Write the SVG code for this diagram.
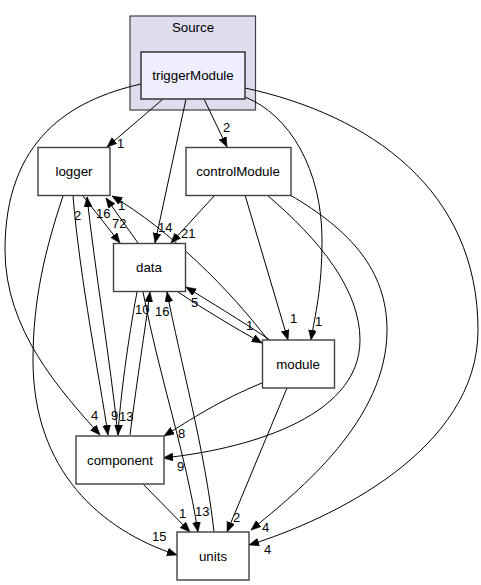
<svg xmlns="http://www.w3.org/2000/svg" width="481" height="585" viewBox="0 0 481 585">
<style>
.n{fill:#ffffff;stroke:#404040;stroke-width:1.4}
.t{font-family:"Liberation Sans",Arial,sans-serif;font-size:13.33px;fill:#000;text-anchor:middle}
.l{font-family:"Liberation Sans",Arial,sans-serif;font-size:13px;fill:#000}
.e{fill:none;stroke:#000;stroke-width:1;marker-end:url(#ah)}
</style>
<defs>
<marker id="ah" markerUnits="userSpaceOnUse" markerWidth="12" markerHeight="9" refX="10" refY="4" orient="auto">
<path d="M0,0 L10,4 L0,8 z" fill="#000" stroke="#000" stroke-width="0.5"/>
</marker>
</defs>
<rect width="481" height="585" fill="#fff"/>
<g id="cluster_Source">
<rect x="130" y="16" width="125.5" height="94" fill="#ddddee" stroke="#404040" stroke-width="1.2"/>
<text class="t" x="193" y="32">Source</text>
</g>
<g id="edges">
<path class="e" d="M163,99 L107,147"/>
<text class="l" x="117" y="148">1</text>
<path class="e" d="M186,99 L155,243"/>
<text class="l" x="158" y="232">14</text>
<path class="e" d="M204,99 L227,147"/>
<text class="l" x="223" y="132">2</text>
<path class="e" d="M141,84 C70,100 5,140 5,250 C5,330 60,390 100,435"/>
<text class="l" x="91" y="420">4</text>
<path class="e" d="M245,97 C290,115 322,170 322,240 C322,290 315,315 311,340"/>
<text class="l" x="315" y="326">1</text>
<path class="e" d="M245,88 C370,115 478,190 478,330 C478,450 330,520 249,545"/>
<text class="l" x="264" y="554">4</text>
<path class="e" d="M215,195 L171,243"/>
<text class="l" x="181" y="238">21</text>
<path class="e" d="M245,195 L288,340"/>
<text class="l" x="290" y="323">1</text>
<path class="e" d="M267,195 C320,240 360,290 360,340 C360,420 240,450 163,458"/>
<text class="l" x="177" y="471">9</text>
<path class="e" d="M290,195 C350,230 387,270 387,330 C387,420 300,490 251,530"/>
<text class="l" x="262" y="532">4</text>
<path class="e" d="M83,196 L120,243"/>
<text class="l" x="96" y="218">16</text>
<path class="e" d="M73,196 C80,280 100,380 108,435"/>
<text class="l" x="111" y="420">9</text>
<path class="e" d="M63,196 C45,250 33,300 33,360 C33,470 100,530 177,555"/>
<text class="l" x="152" y="541">15</text>
<path class="e" d="M118,435 C110,360 95,270 87,197"/>
<text class="l" x="74" y="220">2</text>
<path class="e" d="M138,243 L106,198"/>
<text class="l" x="112" y="228">72</text>
<path class="e" d="M268,340 C230,290 170,230 112,196"/>
<text class="l" x="118" y="210">1</text>
<path class="e" d="M137,292 C128,340 120,400 118,435"/>
<text class="l" x="119" y="421">13</text>
<path class="e" d="M130,435 C137,380 145,330 150,292"/>
<text class="l" x="135" y="314">10</text>
<path class="e" d="M214,532 C205,450 180,360 167,292"/>
<text class="l" x="155" y="316">16</text>
<path class="e" d="M143,292 C160,380 185,450 198,532"/>
<text class="l" x="195" y="516">13</text>
<path class="e" d="M270,340 C240,320 210,302 186,287"/>
<text class="l" x="191" y="307">5</text>
<path class="e" d="M178,292 C205,310 235,328 262,343"/>
<text class="l" x="246" y="330">1</text>
<path class="e" d="M262,383 C220,400 190,420 164,436"/>
<text class="l" x="178" y="438">8</text>
<path class="e" d="M287,388 L227,532"/>
<text class="l" x="233" y="522">2</text>
<path class="e" d="M143,484 L190,532"/>
<text class="l" x="179" y="518">1</text>
</g>
<g id="triggerModule">
<rect x="141" y="52" width="104" height="47" fill="#eeeeff" stroke="#404040" stroke-width="1.6"/>
<text class="t" x="193" y="80">triggerModule</text>
</g>
<g id="logger">
<rect class="n" x="38" y="147.5" width="72" height="48"/>
<text class="t" x="74" y="176">logger</text>
</g>
<g id="controlModule">
<rect class="n" x="186" y="147.5" width="105" height="48"/>
<text class="t" x="238" y="176">controlModule</text>
</g>
<g id="data">
<rect class="n" x="113.5" y="243.5" width="72" height="48"/>
<text class="t" x="149" y="272">data</text>
</g>
<g id="module">
<rect class="n" x="262.5" y="340" width="72" height="48"/>
<text class="t" x="298" y="369">module</text>
</g>
<g id="component">
<rect class="n" x="76" y="436" width="88" height="48"/>
<text class="t" x="120" y="465">component</text>
</g>
<g id="units">
<rect class="n" x="177" y="532" width="72" height="48"/>
<text class="t" x="213" y="561">units</text>
</g>
</svg>
